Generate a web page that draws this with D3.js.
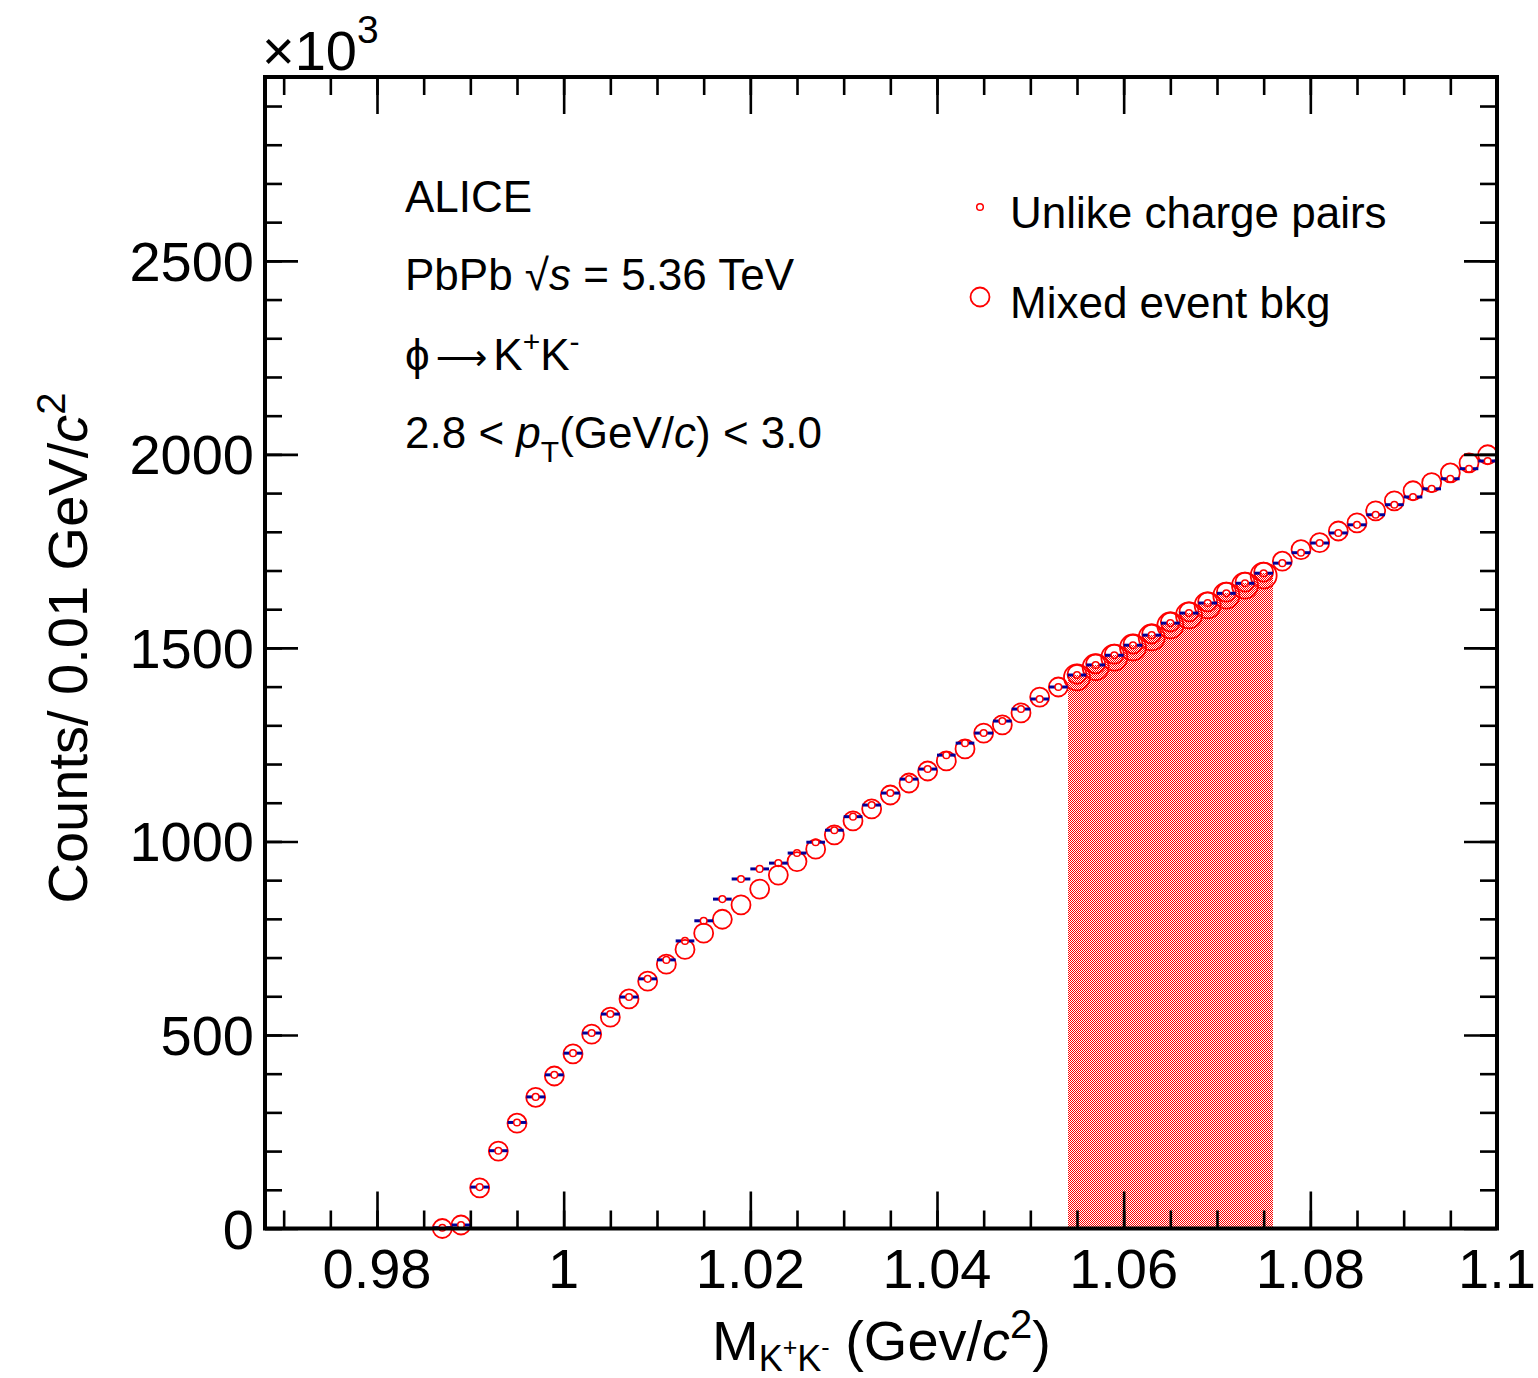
<!DOCTYPE html>
<html>
<head>
<meta charset="utf-8">
<script src="https://cdn.jsdelivr.net/npm/d3@7"></script>
<style>
  body { margin: 0; background: #fff; }
  svg { display: block; font-family: "Liberation Sans", Arial, Helvetica, sans-serif; }
</style>
</head>
<body>
<div id="my_dataviz"></div>
<script>
// bin centres of the invariant mass histogram (GeV/c^2)
var massBins = [0.987, 0.989, 0.991, 0.993, 0.995, 0.997, 0.999, 1.001, 1.003, 1.005,
  1.007, 1.009, 1.011, 1.013, 1.015, 1.017, 1.019, 1.021, 1.023, 1.025,
  1.027, 1.029, 1.031, 1.033, 1.035, 1.037, 1.039, 1.041, 1.043, 1.045,
  1.047, 1.049, 1.051, 1.053, 1.055, 1.057, 1.059, 1.061, 1.063, 1.065,
  1.067, 1.069, 1.071, 1.073, 1.075, 1.077, 1.079, 1.081, 1.083, 1.085,
  1.087, 1.089, 1.091, 1.093, 1.095, 1.097, 1.099];

// counts (x10^3)
var unlikePairs = [2, 9, 107, 201, 274, 340, 397, 453, 505, 554,
  598, 645, 694, 743, 795, 851, 903, 929, 944, 970,
  998, 1029, 1064, 1094, 1125, 1161, 1187, 1223, 1254, 1280,
  1311, 1342, 1368, 1399, 1430, 1456, 1481, 1507, 1533, 1564,
  1590, 1616, 1641, 1667, 1693, 1719, 1746, 1771, 1797, 1818,
  1844, 1870, 1890, 1911, 1937, 1963, 1983];

var mixedBkg = [0, 9, 105, 200, 272, 339, 394, 451, 502, 546,
  593, 639, 683, 721, 763, 799, 836, 877, 913, 948,
  980, 1017, 1053, 1084, 1120, 1151, 1182, 1208, 1239, 1280,
  1301, 1332, 1373, 1399, 1432, 1459, 1484, 1510, 1536, 1567,
  1593, 1619, 1644, 1670, 1696, 1724, 1754, 1772, 1802, 1823,
  1854, 1880, 1906, 1927, 1952, 1978, 1999];

// normalisation region (shaded) and the bkg markers drawn there
var normBins = [1.055, 1.057, 1.059, 1.061, 1.063, 1.065, 1.067, 1.069, 1.071, 1.073, 1.075];
var normFill = [1430, 1456, 1481, 1507, 1533, 1564, 1590, 1616, 1641, 1667, 1693];
var normBkg = [1424, 1450, 1475, 1501, 1527, 1558, 1584, 1610, 1635, 1661, 1687];

var binWidth = 0.002;
var xTicks = [0.98, 1, 1.02, 1.04, 1.06, 1.08, 1.1];
var xTickLabels = ["0.98", "1", "1.02", "1.04", "1.06", "1.08", "1.1"];
var yTicks = [0, 500, 1000, 1500, 2000, 2500];
var yTickLabels = ["0", "500", "1000", "1500", "2000", "2500"];

var W = 1538, H = 1378;
var pLeft = 265, pRight = 1497, pTop = 77, pBottom = 1228.5;

var svg = d3.select("#my_dataviz")
  .append("svg")
    .attr("width", W)
    .attr("height", H);

// checker pattern for the shaded region
var pat = svg.append("defs").append("pattern")
  .attr("id", "checker")
  .attr("patternUnits", "userSpaceOnUse")
  .attr("width", 2)
  .attr("height", 2);
pat.append("rect").attr("x", 0).attr("y", 0).attr("width", 1).attr("height", 1).attr("fill", "#ff0000");
pat.append("rect").attr("x", 1).attr("y", 1).attr("width", 1).attr("height", 1).attr("fill", "#ff0000");

var x = d3.scaleLinear().domain([0.968, 1.1]).range([pLeft, pRight]);
var y = d3.scaleLinear().domain([0, 2975]).range([pBottom, pTop]);

// shaded histogram
svg.append("g").selectAll("rect")
  .data(normBins)
  .enter()
  .append("rect")
    .attr("x", function(d) { return Math.round(x(d - binWidth / 2)); })
    .attr("width", function(d) { return Math.round(x(d + binWidth / 2)) - Math.round(x(d - binWidth / 2)); })
    .attr("y", function(d, i) { return Math.round(y(normFill[i])); })
    .attr("height", function(d, i) { return pBottom - Math.round(y(normFill[i])); })
    .attr("fill", "url(#checker)")
    .attr("shape-rendering", "crispEdges");

// mixed event bkg markers
svg.append("g").selectAll("circle")
  .data(massBins)
  .enter()
  .append("circle")
    .attr("cx", function(d) { return x(d); })
    .attr("cy", function(d, i) { return y(mixedBkg[i]); })
    .attr("r", 9.5)
    .attr("fill", "none")
    .attr("stroke", "#ff0000")
    .attr("stroke-width", 1.8);

svg.append("g").selectAll("circle")
  .data(normBins)
  .enter()
  .append("circle")
    .attr("cx", function(d) { return x(d); })
    .attr("cy", function(d, i) { return y(normBkg[i]); })
    .attr("r", 13)
    .attr("fill", "none")
    .attr("stroke", "#ff0000")
    .attr("stroke-width", 1.8);

// unlike charge pairs: x error bars + small markers
var rs = 3.3;
var bars = svg.append("g").attr("stroke", "#000099").attr("stroke-width", 3);
bars.selectAll(".lbar")
  .data(massBins)
  .enter()
  .append("line")
    .attr("x1", function(d) { return x(d - binWidth / 2); })
    .attr("x2", function(d) { return x(d) - rs; })
    .attr("y1", function(d, i) { return y(unlikePairs[i]); })
    .attr("y2", function(d, i) { return y(unlikePairs[i]); });
bars.selectAll(".rbar")
  .data(massBins)
  .enter()
  .append("line")
    .attr("x1", function(d) { return x(d) + rs; })
    .attr("x2", function(d) { return x(d + binWidth / 2); })
    .attr("y1", function(d, i) { return y(unlikePairs[i]); })
    .attr("y2", function(d, i) { return y(unlikePairs[i]); });

svg.append("g").selectAll("circle")
  .data(massBins)
  .enter()
  .append("circle")
    .attr("cx", function(d) { return x(d); })
    .attr("cy", function(d, i) { return y(unlikePairs[i]); })
    .attr("r", rs)
    .attr("fill", "none")
    .attr("stroke", "#ff0000")
    .attr("stroke-width", 1.5);

// axes: ticks pointing inward on all four sides
var xMinor = d3.range(0.97, 1.1001, 0.005);
var yMinor = d3.range(0, 2976, 100);

function styleAxis(g) {
  g.select(".domain").remove();
  g.selectAll(".tick line").attr("stroke", "#000").attr("stroke-width", 2.6);
  g.selectAll(".tick text").remove();
}

svg.append("g").attr("transform", "translate(0," + pBottom + ")")
  .call(d3.axisBottom(x).tickValues(xTicks).tickSize(-37)).call(styleAxis);
svg.append("g").attr("transform", "translate(0," + pBottom + ")")
  .call(d3.axisBottom(x).tickValues(xMinor).tickSize(-18)).call(styleAxis);
svg.append("g").attr("transform", "translate(0," + pTop + ")")
  .call(d3.axisTop(x).tickValues(xTicks).tickSize(-37)).call(styleAxis);
svg.append("g").attr("transform", "translate(0," + pTop + ")")
  .call(d3.axisTop(x).tickValues(xMinor).tickSize(-18)).call(styleAxis);

svg.append("g").attr("transform", "translate(" + pLeft + ",0)")
  .call(d3.axisLeft(y).tickValues(yTicks).tickSize(-33)).call(styleAxis);
svg.append("g").attr("transform", "translate(" + pLeft + ",0)")
  .call(d3.axisLeft(y).tickValues(yMinor).tickSize(-17)).call(styleAxis);
svg.append("g").attr("transform", "translate(" + pRight + ",0)")
  .call(d3.axisRight(y).tickValues(yTicks).tickSize(-33)).call(styleAxis);
svg.append("g").attr("transform", "translate(" + pRight + ",0)")
  .call(d3.axisRight(y).tickValues(yMinor).tickSize(-17)).call(styleAxis);

// frame
svg.append("rect")
  .attr("x", pLeft).attr("y", pTop)
  .attr("width", pRight - pLeft).attr("height", pBottom - pTop)
  .attr("fill", "none").attr("stroke", "#000").attr("stroke-width", 4);

// tick labels
svg.append("g").selectAll("text")
  .data(xTicks)
  .enter()
  .append("text")
    .attr("x", function(d) { return x(d); })
    .attr("y", 1288)
    .attr("text-anchor", "middle")
    .attr("font-size", 56)
    .text(function(d, i) { return xTickLabels[i]; });

svg.append("g").selectAll("text")
  .data(yTicks)
  .enter()
  .append("text")
    .attr("x", 254)
    .attr("y", function(d) { return y(d) + 20; })
    .attr("text-anchor", "end")
    .attr("font-size", 56)
    .text(function(d, i) { return yTickLabels[i]; });

// x10^3
var mult = svg.append("text").attr("x", 262).attr("y", 70).attr("font-size", 56);
mult.append("tspan").text("\u00d710");
mult.append("tspan").attr("dy", -27).attr("font-size", 39).text("3");

// axis titles
var yt = svg.append("text")
  .attr("transform", "translate(87,648) rotate(-90)")
  .attr("text-anchor", "middle")
  .attr("font-size", 56);
yt.append("tspan").text("Counts/ 0.01 GeV/");
yt.append("tspan").attr("font-style", "italic").text("c");
yt.append("tspan").attr("dy", -22).attr("font-size", 40).text("2");

var xt = svg.append("text").attr("x", 712).attr("y", 1360).attr("font-size", 56);
xt.append("tspan").text("M");
xt.append("tspan").attr("dy", 11).attr("font-size", 36).text("K");
xt.append("tspan").attr("dy", -15).attr("font-size", 25).text("+");
xt.append("tspan").attr("dy", 15).attr("font-size", 36).text("K");
xt.append("tspan").attr("dy", -15).attr("font-size", 25).text("-");
xt.append("tspan").attr("dy", 4).attr("font-size", 56).text(" (Gev/");
xt.append("tspan").attr("font-style", "italic").text("c");
xt.append("tspan").attr("dy", -22).attr("font-size", 40).text("2");
xt.append("tspan").attr("dy", 22).attr("font-size", 56).text(")");

// annotations
var fs = 44;
svg.append("text").attr("x", 405).attr("y", 212).attr("font-size", fs).text("ALICE");

var t2 = svg.append("text").attr("x", 405).attr("y", 290).attr("font-size", fs);
t2.append("tspan").text("PbPb \u221a");
t2.append("tspan").attr("font-style", "italic").text("s");
t2.append("tspan").text(" = 5.36 TeV");

var t3 = svg.append("text").attr("x", 405).attr("y", 370).attr("font-size", fs);
t3.append("tspan").text("\u03d5");
t3.append("tspan").attr("dx", 6).attr("font-family", "DejaVu Sans").attr("font-size", 36).text("\u27f6");
t3.append("tspan").attr("dx", 6).text("K");
t3.append("tspan").attr("dy", -18).attr("font-size", 30).text("+");
t3.append("tspan").attr("dy", 18).attr("font-size", fs).text("K");
t3.append("tspan").attr("dy", -18).attr("font-size", 30).text("-");

var t4 = svg.append("text").attr("x", 405).attr("y", 448).attr("font-size", fs);
t4.append("tspan").text("2.8 < ");
t4.append("tspan").attr("font-style", "italic").text("p");
t4.append("tspan").attr("dy", 14).attr("font-size", 30).text("T");
t4.append("tspan").attr("dy", -14).attr("font-size", fs).text("(GeV/");
t4.append("tspan").attr("font-style", "italic").text("c");
t4.append("tspan").text(") < 3.0");

// legend
svg.append("circle").attr("cx", 980).attr("cy", 207).attr("r", rs)
  .attr("fill", "none").attr("stroke", "#ff0000").attr("stroke-width", 1.5);
svg.append("text").attr("x", 1010).attr("y", 228).attr("font-size", fs).text("Unlike charge pairs");
svg.append("circle").attr("cx", 980).attr("cy", 297).attr("r", 9.5)
  .attr("fill", "none").attr("stroke", "#ff0000").attr("stroke-width", 1.8);
svg.append("text").attr("x", 1010).attr("y", 318).attr("font-size", fs).text("Mixed event bkg");
</script>
</body>
</html>
